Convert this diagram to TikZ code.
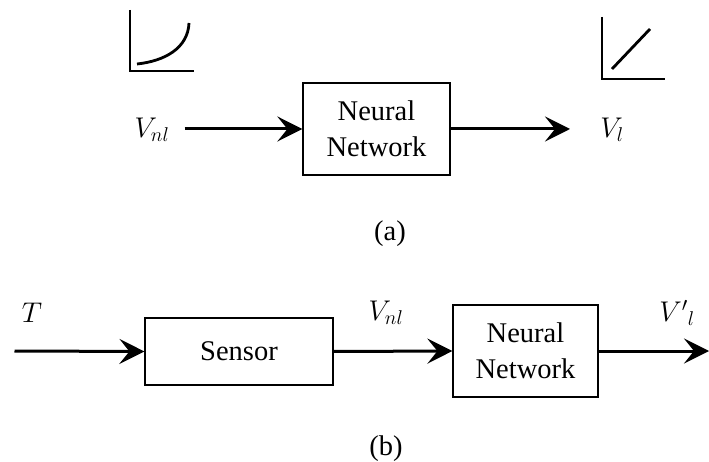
\documentclass[tikz,border=0pt]{standalone}
\usepackage{fix-cm}
\usepackage{fontspec}
\setmainfont{Liberation Serif}
\usetikzlibrary{arrows.meta}
\begin{document}
\begin{tikzpicture}[x=1pt,y=-1pt,
  bigfont/.style={font=\fontsize{28.5}{36}\selectfont},
  blockbox/.style={draw,line width=1.2pt,align=center,inner sep=0pt,bigfont},
  flow/.style={line width=3pt,-{Stealth[length=25pt,width=25pt,inset=10pt]}},
  axisline/.style={line width=2.8pt,line join=miter},
  curveline/.style={line width=2.8pt},
]
\useasboundingbox (0,0) rectangle (709,462);

% ---------- (a) ----------
\node[blockbox,minimum width=147pt,minimum height=92pt] (nn1) at (376.5,129) {Neural\\Network};
\node[bigfont,inner sep=0pt] (vin) at (152,130) {$V_{nl}$};
\node[bigfont,inner sep=0pt] (vout) at (612,130) {$V_l$};
\coordinate (a1) at (184.6,129);
\coordinate (a2) at (570,129);
\draw[flow] (a1) -- (nn1.west);
\draw[flow] (nn1.east) -- (a2);

% nonlinear icon
\draw[axisline] (130,10) -- (130,71) -- (194,71);
\draw[curveline] (137,64) .. controls (165,61) and (188,48) .. (189,23);
% linear icon
\draw[axisline] (602,17) -- (602,79) -- (665,79);
\draw[curveline] (612,69) -- (650,29);

\node[bigfont,inner sep=0pt] (capa) at (390,234) {(a)};

% ---------- (b) ----------
\node[blockbox,minimum width=188pt,minimum height=67pt] (sensor) at (239,351.5) {Sensor};
\node[blockbox,minimum width=145pt,minimum height=92pt] (nn2) at (525.5,351) {Neural\\Network};
\node[bigfont,inner sep=0pt] (tin) at (32,313) {$T$};
\node[bigfont,inner sep=0pt] (vmid) at (386,313) {$V_{nl}$};
\node[bigfont,inner sep=0pt] (vend) at (677,313) {${V'}_{l}$};
\coordinate (b0) at (14.5,351);
\coordinate (b3) at (709,351);
\draw[flow] (b0) -- (sensor.west);
\draw[flow] (sensor.east) -- (nn2.west);
\draw[flow] (nn2.east) -- (b3);

\node[bigfont,inner sep=0pt] (capb) at (386,449) {(b)};
\end{tikzpicture}
\end{document}
